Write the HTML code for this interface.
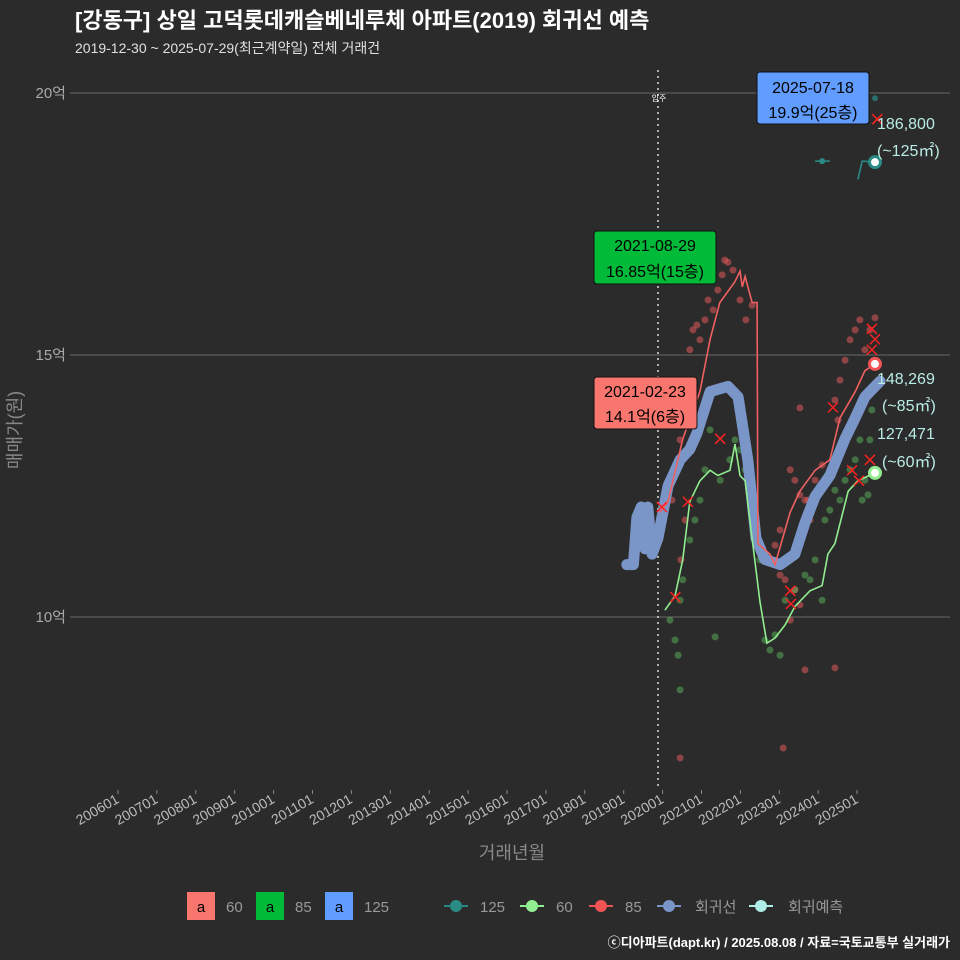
<!DOCTYPE html>
<html><head><meta charset="utf-8"><style>
body{margin:0;background:#2b2b2b;}
svg{display:block;font-family:"Liberation Sans","Noto Sans CJK KR",sans-serif;}
</style></head><body>
<svg id="chart" width="960" height="960" viewBox="0 0 960 960">
<rect width="960" height="960" fill="#2b2b2b"/>
<text x="75" y="28" fill="#ffffff" font-size="22" font-weight="bold">[강동구] 상일 고덕롯데캐슬베네루체 아파트(2019) 회귀선 예측</text>
<text x="75" y="53" fill="#e0e0e0" font-size="14">2019-12-30 ~ 2025-07-29(최근계약일) 전체 거래건</text>
<g id="grid"></g>
<g id="yaxis"></g>
<g id="xaxis"></g>
<text transform="translate(21,430) rotate(-90)" text-anchor="middle" fill="#888" font-size="18">매매가(원)</text>
<text x="512" y="859" text-anchor="middle" fill="#888" font-size="18">거래년월</text>
<line x1="658" y1="70" x2="658" y2="790" stroke="#ddd" stroke-width="1.5" stroke-dasharray="2,4"/>
<text x="659" y="101" text-anchor="middle" fill="#fff" font-size="8">입주</text>
<g id="marks"></g>
<g>
<rect x="757" y="72" width="112" height="52" rx="3" fill="#619cff" stroke="#111"/>
<text x="813" y="93" text-anchor="middle" font-size="16" fill="#000">2025-07-18</text>
<text x="813" y="118" text-anchor="middle" font-size="16" fill="#000">19.9억(25층)</text>
</g>
<g>
<rect x="594" y="231" width="122" height="53" rx="3" fill="#00ba38" stroke="#111"/>
<text x="655" y="251" text-anchor="middle" font-size="16" fill="#000">2021-08-29</text>
<text x="655" y="277" text-anchor="middle" font-size="16" fill="#000">16.85억(15층)</text>
</g>
<g>
<rect x="594" y="377" width="103" height="52" rx="3" fill="#f8766d" stroke="#111"/>
<text x="645" y="397" text-anchor="middle" font-size="16" fill="#000">2021-02-23</text>
<text x="645" y="422" text-anchor="middle" font-size="16" fill="#000">14.1억(6층)</text>
</g>
<g fill="#b9ece4" font-size="16">
<text x="877" y="129">186,800</text>
<text x="877" y="156">(~125㎡)</text>
<text x="877" y="384">148,269</text>
<text x="882" y="411">(~85㎡)</text>
<text x="877" y="439">127,471</text>
<text x="882" y="467">(~60㎡)</text>
</g>
<g font-size="15" fill="#999">
<rect x="187" y="892" width="28" height="28" fill="#f8766d"/>
<text x="201" y="912" text-anchor="middle" fill="#000">a</text>
<text x="226" y="912">60</text>
<rect x="256" y="892" width="28" height="28" fill="#00ba38"/>
<text x="270" y="912" text-anchor="middle" fill="#000">a</text>
<text x="295" y="912">85</text>
<rect x="325" y="892" width="28" height="28" fill="#619cff"/>
<text x="339" y="912" text-anchor="middle" fill="#000">a</text>
<text x="364" y="912">125</text>
<g><line x1="444" y1="906" x2="468" y2="906" stroke="#2a8b86" stroke-width="2"/><circle cx="456" cy="906" r="6" fill="#2a8b86"/></g>
<text x="480" y="912">125</text>
<g><line x1="520" y1="906" x2="544" y2="906" stroke="#90ee90" stroke-width="2"/><circle cx="532" cy="906" r="6" fill="#90ee90"/></g>
<text x="556" y="912">60</text>
<g><line x1="589" y1="906" x2="613" y2="906" stroke="#f05454" stroke-width="2"/><circle cx="601" cy="906" r="6" fill="#f05454"/></g>
<text x="625" y="912">85</text>
<g><line x1="657" y1="906" x2="681" y2="906" stroke="#7a96c8" stroke-width="2"/><circle cx="669" cy="906" r="6" fill="#7a96c8"/></g>
<text x="695" y="912">회귀선</text>
<g><line x1="749" y1="906" x2="773" y2="906" stroke="#aeeee6" stroke-width="2"/><circle cx="761" cy="906" r="6" fill="#aeeee6"/></g>
<text x="788" y="912">회귀예측</text>
</g>
<text x="950" y="947" text-anchor="end" fill="#fff" font-size="13" font-weight="bold">ⓒ디아파트(dapt.kr) / 2025.08.08 / 자료=국토교통부 실거래가</text>
</svg>
<script>
const yTickValues=[10,15,20];
const yTickLabels=["10억","15억","20억"];
const xTickYears=[2006,2007,2008,2009,2010,2011,2012,2013,2014,2015,2016,2017,2018,2019,2020,2021,2022,2023,2024,2025];
const regT=[2019.08,2019.25,2019.34,2019.45,2019.55,2019.62,2019.73,2019.88,2020.14,2020.45,2020.70,2020.88,2021.22,2021.68,2021.94,2022.19,2022.40,2022.63,2023.02,2023.40,2023.66,2023.92,2024.30,2024.69,2024.95,2025.20,2025.59];
const regV=[11.0,11.0,11.9,12.1,11.3,12.1,11.2,11.5,12.5,13.0,13.2,13.5,14.3,14.4,14.2,13.0,11.5,11.1,11.0,11.2,11.8,12.3,12.7,13.4,13.8,14.2,14.5];
const l85T=[2019.93,2020.14,2020.52,2020.96,2021.22,2021.47,2021.86,2021.99,2022.05,2022.12,2022.30,2022.43,2022.45,2022.76,2022.89,2023.28,2023.53,2023.92,2024.30,2024.56,2024.95,2025.20,2025.46];
const l85V=[12.0,12.2,13.4,14.3,15.3,16.0,16.4,16.6,16.3,16.5,16.0,16.0,11.4,11.2,11.0,12.0,12.4,12.8,13.0,13.8,14.3,14.7,14.83];
const l60T=[2020.06,2020.32,2020.52,2020.70,2020.96,2021.22,2021.42,2021.73,2021.86,2021.99,2022.12,2022.30,2022.50,2022.68,2022.89,2023.15,2023.40,2023.79,2024.10,2024.25,2024.43,2024.77,2025.02,2025.46];
const l60V=[10.13,10.4,11.1,12.2,12.6,12.8,12.7,12.8,13.3,12.7,12.6,11.5,10.3,9.5,9.6,9.85,10.2,10.5,10.6,11.2,11.4,12.4,12.6,12.75];
const l125aT=[2023.92,2024.30];
const l125aV=[18.7,18.7];
const l125bT=[2025.02,2025.13,2025.46];
const l125bV=[18.35,18.7,18.68];
const p85T=[2020.06,2020.14,2020.24,2020.32,2020.45,2020.58,2020.65,2020.70,2020.78,2020.88,2020.96,2021.09,2021.17,2021.30,2021.42,2021.53,2021.60,2021.68,2021.81,2021.99,2022.14,2022.30,2023.53,2023.28,2023.40,2023.53,2023.66,2023.79,2023.02,2022.89,2022.76,2023.02,2023.15,2023.40,2023.53,2023.28,2023.10,2023.66,2023.74,2023.92,2024.10,2024.30,2024.43,2024.51,2024.56,2024.69,2024.82,2024.95,2025.07,2025.20,2025.33,2025.46,2020.45,2020.47,2020.58,2024.43];
const p85V=[12.04,12.52,12.23,12.81,13.38,14.05,14.52,15.10,15.48,15.57,15.29,15.67,16.05,15.86,16.24,16.53,16.81,16.77,16.62,16.05,15.67,15.95,13.99,12.81,12.61,12.33,12.23,11.85,11.66,11.37,11.09,10.80,10.71,10.52,10.23,9.94,7.50,8.99,12.23,12.61,12.90,12.81,14.14,13.76,14.52,14.90,15.29,15.48,15.67,15.10,15.48,15.71,7.31,11.09,11.85,9.03];
const p60T=[2020.19,2020.32,2020.40,2020.45,2020.45,2020.52,2020.70,2020.83,2020.96,2021.09,2021.22,2021.35,2021.48,2021.73,2021.86,2021.99,2022.12,2022.25,2022.50,2022.63,2022.76,2022.89,2023.02,2023.15,2023.40,2023.66,2023.79,2023.92,2024.10,2024.17,2024.30,2024.43,2024.56,2024.69,2024.82,2024.95,2025.07,2025.13,2025.20,2025.33,2025.38,2025.28];
const p60V=[9.94,9.56,9.27,8.61,10.32,10.71,11.47,11.85,12.23,12.81,13.57,9.62,12.61,13.0,13.38,13.19,12.81,12.23,11.09,9.56,9.37,9.66,9.27,10.32,10.52,10.80,10.71,11.09,10.32,11.85,12.04,12.42,12.23,12.61,12.81,13.0,13.38,12.23,12.61,13.38,13.95,12.33];
const xT=[2019.98,2020.33,2020.65,2021.48,2023.28,2023.30,2024.38,2024.87,2025.38,2025.46,2025.38,2025.33,2025.05,2025.52];
const xV=[12.1,10.38,12.2,13.4,10.5,10.25,14.0,12.8,15.5,15.3,15.1,13.0,12.6,19.5];
const endT=[2025.46,2025.46,2025.46];
const endV=[18.68,14.83,12.75];
const endColors=["#2a8b86","#f05454","#90ee90"];

const NS="http://www.w3.org/2000/svg";
function xs(t){return 118+(t-2006)*38.9;}
function ys(v){return 617-(v-10)*52.4;}
function mk(tag,attrs,parent){const e=document.createElementNS(NS,tag);for(const k in attrs)e.setAttribute(k,attrs[k]);parent.appendChild(e);return e;}
const grid=document.getElementById('grid'),yaxis=document.getElementById('yaxis'),xaxis=document.getElementById('xaxis'),marks=document.getElementById('marks');
yTickValues.forEach((v,i)=>{
 const g=mk('line',{x1:70,x2:950,y1:ys(v),y2:ys(v),stroke:'#6a6a6a','stroke-width':1},grid);
 
 
 const t=mk('text',{x:66,y:ys(v)+5,'text-anchor':'end',fill:'#aaa','font-size':15},yaxis);
 t.textContent=yTickLabels[i];
 
 
});
xTickYears.forEach(y=>{
 const x=xs(y);
 const tk=mk('line',{x1:x,x2:x,y1:790,y2:794,stroke:'#888'},xaxis);
 
 
 const t=mk('text',{x:x+2,y:802,'text-anchor':'end',fill:'#bbb','font-size':14,transform:`rotate(-30 ${x+2} 802)`},xaxis);
 t.textContent=y+'01';
 
 
});
function path(T,V){return T.map((t,i)=>(i?'L':'M')+xs(t).toFixed(1)+','+ys(V[i]).toFixed(1)).join('');}
p85T.forEach((t,i)=>{const c=mk('circle',{cx:xs(t),cy:ys(p85V[i]),r:3.5,fill:'#e05a5a','fill-opacity':0.55},marks);
 
 });
p60T.forEach((t,i)=>{const c=mk('circle',{cx:xs(t),cy:ys(p60V[i]),r:3.5,fill:'#5cb85c','fill-opacity':0.5},marks);
 
 });
const reg=mk('path',{d:path(regT,regV),fill:'none',stroke:'#7a96c8','stroke-width':11,'stroke-linejoin':'round','stroke-linecap':'round'},marks);


const a=mk('path',{d:path(l85T,l85V),fill:'none',stroke:'#f06060','stroke-width':1.6},marks);


const b=mk('path',{d:path(l60T,l60V),fill:'none',stroke:'#90ee90','stroke-width':1.6},marks);


const c1=mk('path',{d:path(l125aT,l125aV),fill:'none',stroke:'#2a8b86','stroke-width':1.6},marks);


const c2=mk('path',{d:path(l125bT,l125bV),fill:'none',stroke:'#2a8b86','stroke-width':1.6},marks);


const p125=mk('circle',{cx:xs(2024.1),cy:ys(18.7),r:3,fill:'#2a8b86'},marks);


const p125b=mk('circle',{cx:xs(2025.46),cy:ys(19.9),r:3,fill:'#2a8b86','fill-opacity':0.7},marks);


xT.forEach((t,i)=>{const x=xs(t),y=ys(xV[i]);
 const g=mk('path',{d:`M${x-5},${y-5}L${x+5},${y+5}M${x+5},${y-5}L${x-5},${y+5}`,stroke:'#ff2020','stroke-width':1.5},marks);
 
 });
endT.forEach((t,i)=>{
 const c=mk('circle',{cx:xs(t),cy:ys(endV[i]),r:5.5,fill:'#fff',stroke:endColors[i],'stroke-width':3},marks);
 
 
});
</script>
</body></html>
